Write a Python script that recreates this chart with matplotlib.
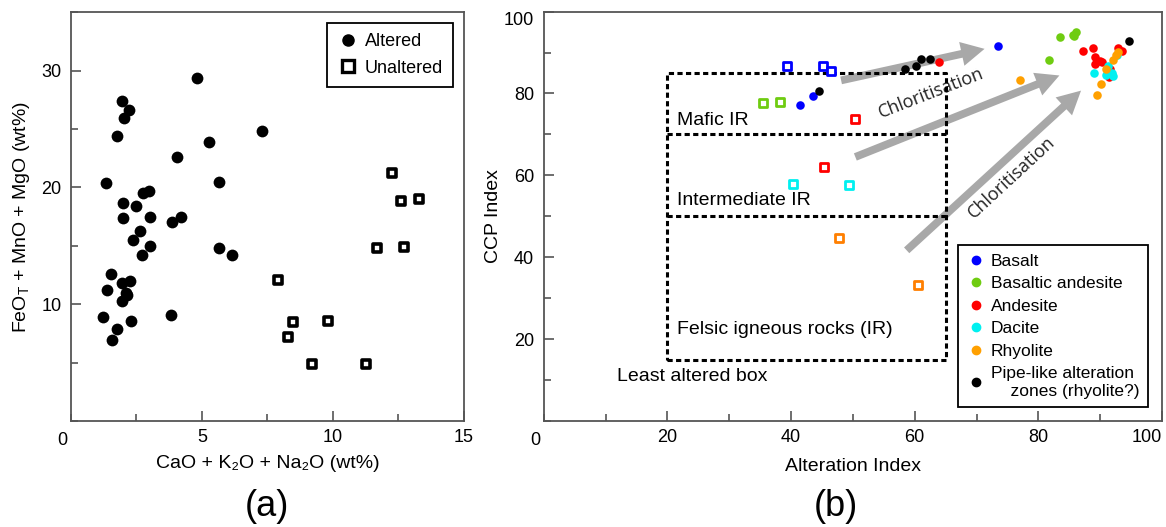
import matplotlib
matplotlib.use('Agg')
import matplotlib.pyplot as plt
from matplotlib.lines import Line2D
from matplotlib.ticker import MultipleLocator

plt.rcParams['font.family'] = ['Liberation Sans', 'DejaVu Sans']
plt.rcParams['mathtext.fontset'] = 'custom'
plt.rcParams['mathtext.rm'] = 'Liberation Sans'
plt.rcParams['mathtext.it'] = 'Liberation Sans:italic'

## ---- (a) CaO+K2O+Na2O vs FeOT+MnO+MgO ----
alt_x = [1.35, 1.96, 2.23, 2.02, 1.74, 4.8, 7.28, 5.28, 4.06, 5.66, 2.0, 2.48,
         2.76, 2.98, 2.0, 3.02, 3.87, 4.2, 2.63, 2.38, 3.02, 5.66, 6.16, 2.72,
         1.53, 1.36, 1.93, 2.25, 2.1, 1.93, 2.15, 1.21, 2.29, 1.74, 1.55, 3.82]
alt_y = [20.4, 27.4, 26.6, 25.9, 24.4, 29.4, 24.8, 23.9, 22.6, 20.5, 18.7, 18.4,
         19.5, 19.7, 17.4, 17.5, 17.0, 17.5, 16.3, 15.5, 15.0, 14.8, 14.2, 14.2,
         12.6, 11.2, 11.8, 12.0, 11.0, 10.3, 10.8, 8.9, 8.6, 7.9, 6.9, 9.1]
unalt_x = [12.27, 12.6, 13.3, 11.67, 12.72, 7.91, 8.46, 8.27, 9.82, 9.19, 11.26]
unalt_y = [21.2, 18.8, 19.0, 14.8, 14.9, 12.05, 8.5, 7.2, 8.6, 4.85, 4.85]

## ---- (b) alteration box plot: altered (circles) and least altered (squares) ----
rock_names = ['Basalt', 'Basaltic andesite', 'Andesite', 'Dacite', 'Rhyolite',
              'Pipe-like alteration\n    zones (rhyolite?)']
rock_colors = ['#0000ff', '#6fcc11', '#ff0000', '#00f0f0', '#ffa000', '#000000']
square_colors = ['#0000ff', '#6fcc11', '#ff0000', '#00f0f0', '#ff7f00', '#000000']

ai_alt = [
    [41.5, 43.6, 73.4],
    [81.7, 83.5, 85.6, 86.1, 85.8],
    [64.0, 87.2, 88.8, 89.1, 89.9, 89.2, 90.3, 93.5, 91.5, 91.6, 92.8],
    [89.0, 91.0, 91.9, 91.3, 92.7, 92.0],
    [77.1, 90.9, 92.0, 92.5, 90.1, 89.5, 92.8],
    [44.6, 58.5, 60.2, 61.0, 62.5, 94.6],
]
ccpi_alt = [
    [77.3, 79.3, 91.5],
    [88.2, 93.9, 94.4, 95.0, 94.1],
    [87.8, 90.3, 91.2, 88.9, 88.0, 87.2, 87.6, 90.3, 84.0, 86.0, 91.0],
    [85.0, 84.6, 85.0, 86.6, 89.5, 84.3],
    [83.2, 86.0, 88.2, 89.5, 82.4, 79.7, 90.2],
    [80.7, 85.9, 86.7, 88.5, 88.5, 92.9],
]
ai_least = [[39.3, 45.2, 46.5], [35.4, 38.2], [50.3, 45.3], [40.3, 49.4], [47.8, 60.6], []]
ccpi_least = [[86.7, 86.6, 85.6], [77.6, 77.9], [73.7, 62.0], [58.0, 57.6], [44.6, 33.3], []]

# least altered box and its fields
box_ai = [20, 65]
box_ccpi = [15, 85]
field_lines = [70, 50]

# chloritisation arrows (tail -> head)
arrow_tail = [(48.1, 83.2), (50.4, 64.5), (58.7, 41.7)]
arrow_head = [(71.3, 90.9), (83.4, 84.4), (86.9, 80.7)]

spine_col = '#555555'

fig = plt.figure(figsize=(11.66, 5.27), dpi=100)
ax1 = fig.add_axes([0.0609, 0.201, 0.337, 0.776])
ax2 = fig.add_axes([0.4663, 0.201, 0.5303, 0.777])

def style_axes(ax):
    for s in ax.spines.values():
        s.set_color(spine_col)
        s.set_linewidth(1.3)
    ax.tick_params(which='both', direction='in', color=spine_col, width=1.2,
                   labelsize=13, top=False, right=False)
    ax.tick_params(which='major', length=7)
    ax.tick_params(which='minor', length=5)
    ax.tick_params(axis='x', pad=6)
    ax.tick_params(axis='y', pad=7)
    ax.annotate('0', xy=(0, 0), xycoords='axes fraction', xytext=(-6, -8),
                textcoords='offset points', ha='center', va='top', fontsize=13)

## panel (a)
ax1.scatter(alt_x, alt_y, s=72, c='black', linewidths=0, zorder=3)
ax1.scatter(unalt_x, unalt_y, s=38, marker='s', facecolors='white',
            edgecolors='black', linewidths=2.6, zorder=3)
ax1.set_xlim(0, 15)
ax1.set_ylim(0, 35)
ax1.set_xticks([5, 10, 15])
ax1.set_yticks([10, 20, 30])
ax1.xaxis.set_minor_locator(MultipleLocator(2.5))
ax1.yaxis.set_minor_locator(MultipleLocator(5))
style_axes(ax1)
ax1.set_xlabel('CaO + K\u2082O + Na\u2082O (wt%)', fontsize=14, va='center')
ax1.xaxis.set_label_coords(0.5, -0.103)
ax1.set_ylabel(r'FeO$_{\mathrm{T}}$ + MnO + MgO (wt%)', fontsize=14, va='center')
ax1.yaxis.set_label_coords(-0.125, 0.5)

h1 = [Line2D([], [], ls='', marker='o', color='black', markersize=8),
      Line2D([], [], ls='', marker='s', markerfacecolor='white',
             markeredgecolor='black', markeredgewidth=2.4, markersize=8)]
leg1 = ax1.legend(h1, ['Altered', 'Unaltered'], loc='upper right', fontsize=13,
                  fancybox=False, edgecolor='black', framealpha=1,
                  handletextpad=0.35, handlelength=1.2, borderpad=0.55,
                  labelspacing=0.55, borderaxespad=0.6)
leg1.get_frame().set_linewidth(1.3)

## panel (b)
for (x0, y0), (x1, y1) in zip(arrow_tail, arrow_head):
    ax2.annotate('', xy=(x1, y1), xytext=(x0, y0), zorder=1.5,
                 arrowprops=dict(arrowstyle='simple,head_length=1.2,head_width=1.25,tail_width=0.4',
                                 color='#a8a8a8', lw=0, shrinkA=0, shrinkB=0,
                                 mutation_scale=14))

dash = dict(color='black', lw=2.2, dashes=(1.7, 1.1), zorder=2)
ax2.plot([box_ai[0], box_ai[1], box_ai[1], box_ai[0], box_ai[0]],
         [box_ccpi[0], box_ccpi[0], box_ccpi[1], box_ccpi[1], box_ccpi[0]], **dash)
for yv in field_lines:
    ax2.plot(box_ai, [yv, yv], **dash)

for i in range(len(rock_names)):
    if ai_least[i]:
        ax2.scatter(ai_least[i], ccpi_least[i], s=30, marker='s', facecolors='white',
                    edgecolors=square_colors[i], linewidths=2.0, zorder=3)
    ax2.scatter(ai_alt[i], ccpi_alt[i], s=38, c=rock_colors[i], linewidths=0, zorder=3)

ax2.set_xlim(0, 100)
ax2.set_ylim(0, 100)
ax2.set_xticks([20, 40, 60, 80, 100])
ax2.set_yticks([20, 40, 60, 80, 100])
ax2.xaxis.set_minor_locator(MultipleLocator(10))
ax2.yaxis.set_minor_locator(MultipleLocator(10))
style_axes(ax2)
ax2.set_xlabel('Alteration Index', fontsize=14, va='center')
ax2.xaxis.set_label_coords(0.5, -0.11)
ax2.set_ylabel('CCP Index', fontsize=14, va='center')
ax2.yaxis.set_label_coords(-0.082, 0.5)

# edge labels kept inside the figure like in the original
ax2.get_xticklabels()[-1].set_ha('right')
ax2.get_yticklabels()[-1].set_va('top')

ax2.text(21.5, 73.4, 'Mafic IR', fontsize=14, va='center', zorder=4)
ax2.text(21.5, 53.9, 'Intermediate IR', fontsize=14, va='center', zorder=4)
ax2.text(21.6, 22.4, 'Felsic igneous rocks (IR)', fontsize=14, va='center', zorder=4)
ax2.text(11.8, 11.0, 'Least altered box', fontsize=14, va='center', zorder=4)

ax2.text(62.7, 80.1, 'Chloritisation', fontsize=13, family=['Open Sans', 'DejaVu Sans'],
         color='#222222', rotation=21.3, ha='center', va='center', zorder=1.8,
         rotation_mode='anchor')
ax2.text(75.6, 59.6, 'Chloritisation', fontsize=13, family=['Open Sans', 'DejaVu Sans'],
         color='#222222', rotation=42.7, ha='center', va='center', zorder=1.8,
         rotation_mode='anchor')

h2 = [Line2D([], [], ls='', marker='o', color=c, markersize=6) for c in rock_colors]
leg2 = ax2.legend(h2, rock_names, loc='lower right', fontsize=12.5, fancybox=False,
                  edgecolor='black', framealpha=1, handletextpad=0.3,
                  handlelength=1.1, borderpad=0.5, labelspacing=0.42,
                  borderaxespad=0.8)
leg2.get_frame().set_linewidth(1.3)

fig.text(0.229, 0.038, '(a)', fontsize=26, ha='center', va='center')
fig.text(0.717, 0.038, '(b)', fontsize=26, ha='center', va='center')

fig.savefig('out.png', dpi=100)
